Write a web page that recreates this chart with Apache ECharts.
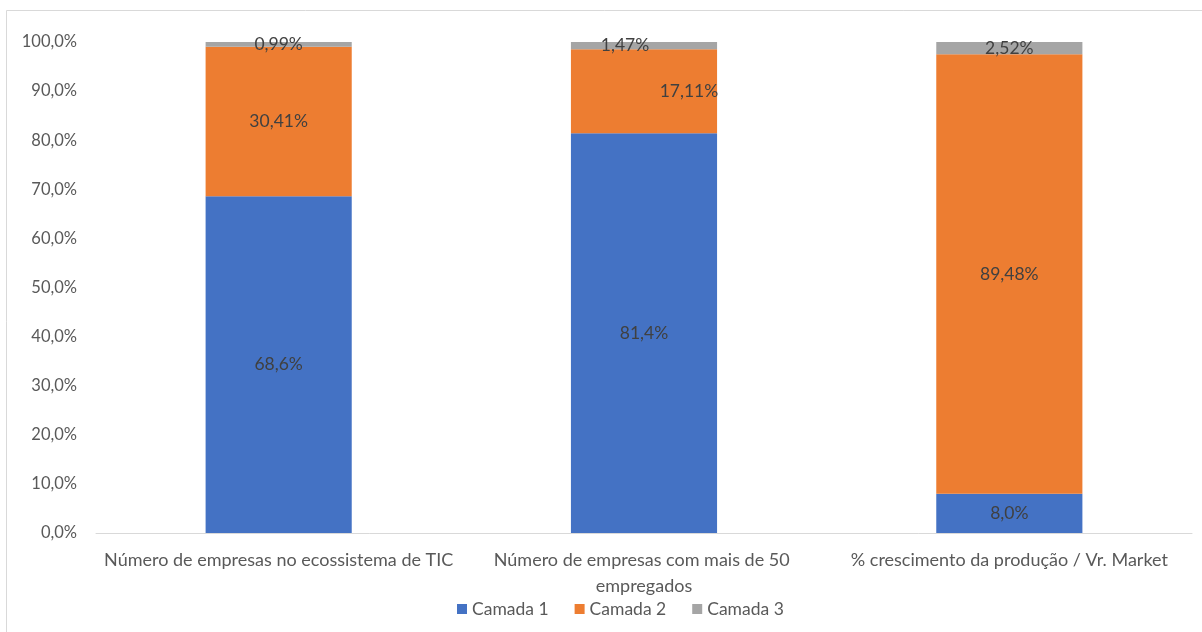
<!DOCTYPE html>
<html>
<head>
<meta charset="utf-8">
<script src="https://cdn.jsdelivr.net/npm/echarts@6/dist/echarts.min.js"></script>
<style>
  html, body { margin: 0; padding: 0; background: #fff; }
  #chart { width: 1202px; height: 632px; }
</style>
</head>
<body>
<div id="chart"></div>
<script>
// Categories and stacked shares (percent) per layer
const categories = [
  'Número de empresas no ecossistema de TIC',
  'Número de empresas com mais de 50 empregados',
  '% crescimento da produção / Vr. Market'
];
const seriesNames = ['Camada 1', 'Camada 2', 'Camada 3'];
const camada1 = [68.6, 81.4, 8.0];
const camada2 = [30.41, 17.11, 89.48];
const camada3 = [0.99, 1.47, 2.52];
const labelDecimals = [1, 2, 2];
const yTicks = [0, 10, 20, 30, 40, 50, 60, 70, 80, 90, 100];

const colors = ['#4472C4', '#ED7D31', '#A5A5A5'];
const font = 'Lato, "Open Sans", sans-serif';

// individual label nudges (x, y) for a few segments
const labelOffsets = {
  '1-1': [45, 0],
  '2-1': [-19, 0]
};

function fmt(v, d) {
  return v.toFixed(d).replace('.', ',') + '%';
}

function buildSeries(name, values, si) {
  return {
    name: name,
    type: 'bar',
    stack: 'total',
    barWidth: '40%',
    itemStyle: { color: colors[si] },
    label: {
      show: true,
      position: 'inside',
      fontFamily: font,
      fontSize: 17.5,
      color: '#404040',
      formatter: p => fmt(p.value, labelDecimals[si])
    },
    data: values.map((v, ci) => {
      const off = labelOffsets[si + '-' + ci];
      return off ? { value: v, label: { offset: off } } : v;
    })
  };
}

const chart = echarts.init(document.getElementById('chart'));
chart.setOption({
  animation: false,
  backgroundColor: '#ffffff',
  color: colors,
  graphic: [{
    type: 'rect',
    shape: { x: 6.5, y: 10.5, width: 1200, height: 640 },
    style: { fill: 'none', stroke: '#d9d9d9', lineWidth: 1 },
    silent: true
  }],
  grid: { left: 96, right: 10, top: 42, bottom: 99 },
  legend: {
    data: seriesNames,
    bottom: 9,
    left: 452,
    itemWidth: 10,
    itemHeight: 10,
    itemGap: 26,
    icon: 'rect',
    textStyle: { fontFamily: font, fontSize: 17.5, color: '#595959' }
  },
  xAxis: {
    type: 'category',
    data: categories,
    axisLine: { show: true, lineStyle: { color: '#d9d9d9', width: 1 } },
    axisTick: { show: false },
    axisLabel: {
      fontFamily: font,
      fontSize: 18,
      color: '#595959',
      margin: 14,
      lineHeight: 26,
      width: 360,
      overflow: 'break',
      interval: 0
    }
  },
  yAxis: {
    type: 'value',
    min: yTicks[0],
    max: yTicks[yTicks.length - 1],
    interval: yTicks[1] - yTicks[0],
    axisLine: { show: false },
    axisTick: { show: false },
    splitLine: { show: false },
    axisLabel: {
      fontFamily: font,
      fontSize: 16.5,
      color: '#595959',
      margin: 19,
      formatter: v => fmt(v, 1)
    }
  },
  series: [
    buildSeries(seriesNames[0], camada1, 0),
    buildSeries(seriesNames[1], camada2, 1),
    buildSeries(seriesNames[2], camada3, 2)
  ]
});
</script>
</body>
</html>
